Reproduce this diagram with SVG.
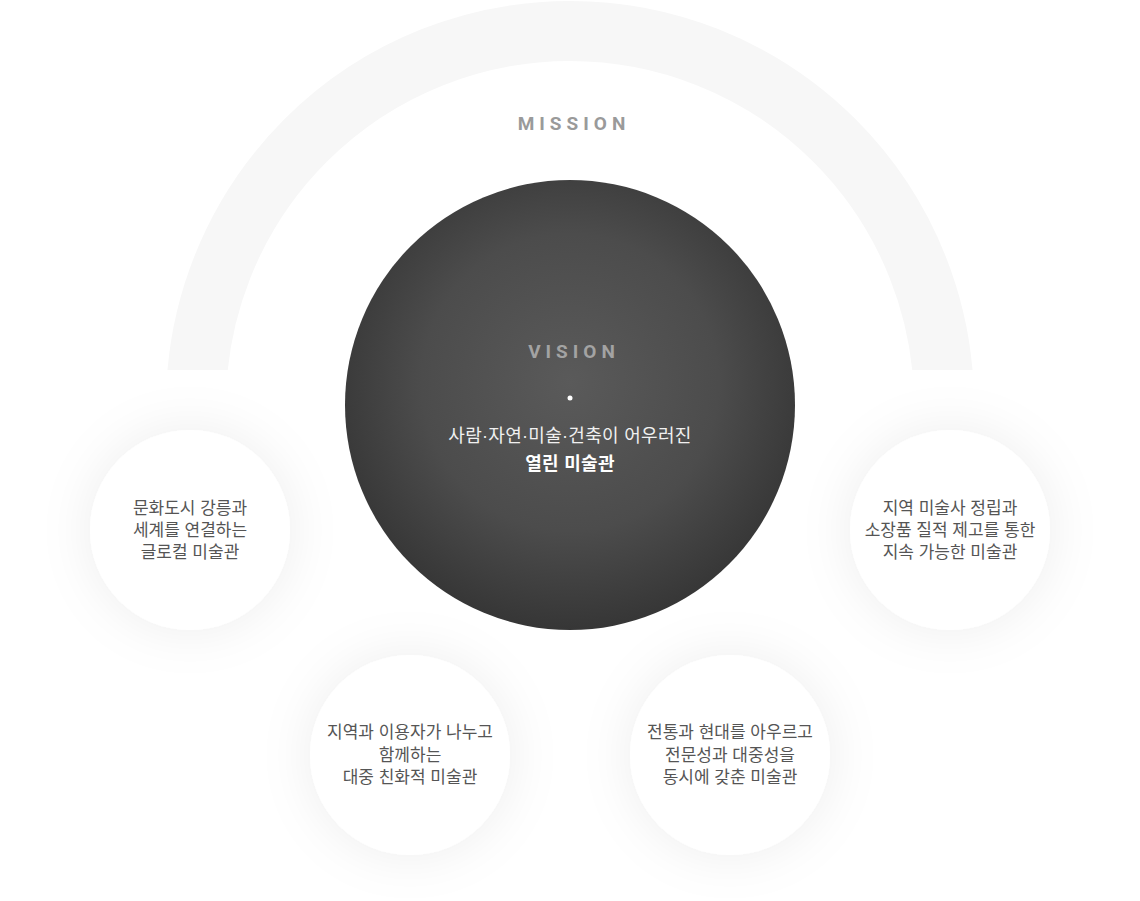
<svg xmlns="http://www.w3.org/2000/svg" width="1140" height="901" viewBox="0 0 1140 901">
  <style>
    .lbl { font-family: "Roboto", "Liberation Sans", sans-serif; font-weight: 700; font-size: 19px; letter-spacing: 5px; text-anchor: middle; }
    .mis { fill: #9a9a9a; }
    .vis { fill: #a3a3a3; }
    .vt { font-family: "Liberation Sans", "Noto Sans CJK KR", sans-serif; font-size: 18px; letter-spacing: 0.3px; fill: #f0f0f0; text-anchor: middle; }
    .vb { font-weight: 700; fill: #ffffff; }
    .st { font-family: "Liberation Sans", "Noto Sans CJK KR", sans-serif; font-size: 17px; fill: #555555; text-anchor: middle; }
    .sc { fill: #ffffff; filter: url(#glow); }
  </style>
  <defs>
    <radialGradient id="dark" cx="50%" cy="45%" r="55%">
      <stop offset="0" stop-color="#5a5a5a"/>
      <stop offset="0.6" stop-color="#4c4c4c"/>
      <stop offset="1" stop-color="#363636"/>
    </radialGradient>
    <clipPath id="arcClip">
      <rect x="0" y="0" width="1140" height="370"/>
    </clipPath>
    <filter id="glow" x="-60%" y="-60%" width="220%" height="220%">
      <feDropShadow dx="0" dy="0" stdDeviation="26" flood-color="#000000" flood-opacity="0.07"/>
    </filter>
  </defs>
  <rect width="1140" height="901" fill="#ffffff"/>

  <g id="mission">
    <circle cx="570" cy="405" r="374" fill="none" stroke="#f7f7f7" stroke-width="60" clip-path="url(#arcClip)"/>
    <text class="lbl mis" x="574" y="130">MISSION</text>
  </g>

  <g id="connectors"></g>

  <g id="vision">
    <circle cx="570" cy="405" r="225" fill="url(#dark)"/>
    <text class="lbl vis" x="574" y="358">VISION</text>
    <circle cx="570" cy="398" r="2.5" fill="#ffffff"/>
    <text class="vt" x="570" y="442">사람·자연·미술·건축이 어우러진</text>
    <text class="vt vb" x="570" y="470">열린 미술관</text>
  </g>

  <g id="node-left">
    <circle class="sc" cx="190" cy="530" r="100"/>
    <text class="st" x="190" y="514">문화도시 강릉과</text>
    <text class="st" x="190" y="536">세계를 연결하는</text>
    <text class="st" x="190" y="558">글로컬 미술관</text>
  </g>

  <g id="node-right">
    <circle class="sc" cx="950" cy="530" r="100"/>
    <text class="st" x="950" y="514">지역 미술사 정립과</text>
    <text class="st" x="950" y="536">소장품 질적 제고를 통한</text>
    <text class="st" x="950" y="558">지속 가능한 미술관</text>
  </g>

  <g id="node-bottom-left">
    <circle class="sc" cx="410" cy="755" r="100"/>
    <text class="st" x="410" y="738">지역과 이용자가 나누고</text>
    <text class="st" x="410" y="761">함께하는</text>
    <text class="st" x="410" y="783">대중 친화적 미술관</text>
  </g>

  <g id="node-bottom-right">
    <circle class="sc" cx="730" cy="755" r="100"/>
    <text class="st" x="730" y="738">전통과 현대를 아우르고</text>
    <text class="st" x="730" y="761">전문성과 대중성을</text>
    <text class="st" x="730" y="783">동시에 갖춘 미술관</text>
  </g>
</svg>
